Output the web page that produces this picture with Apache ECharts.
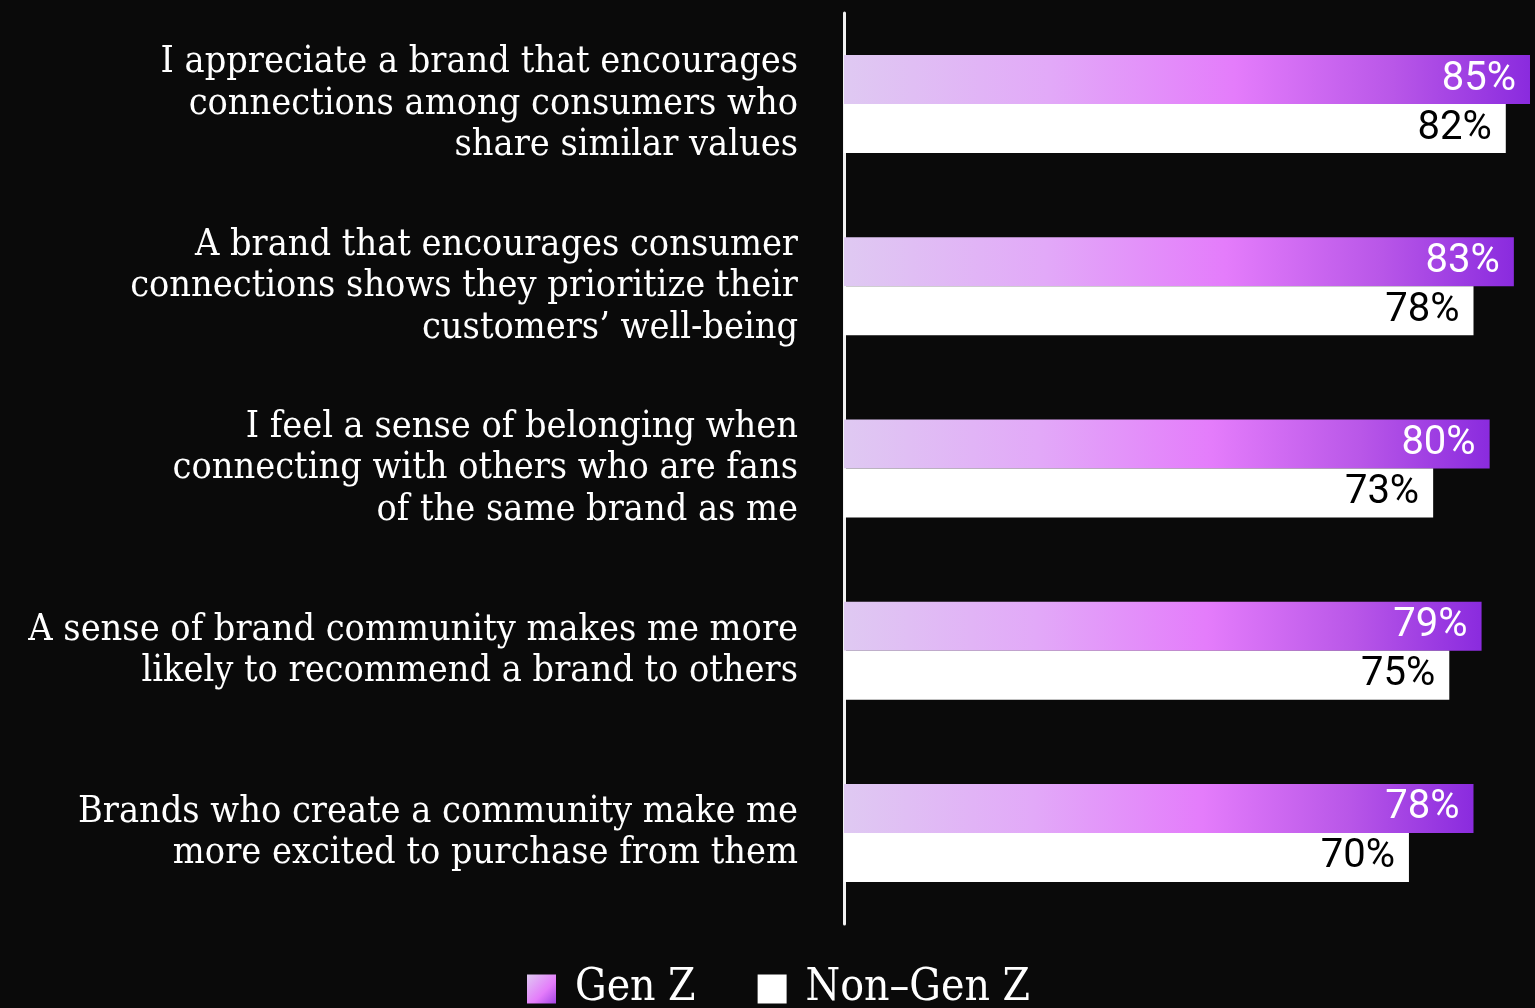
<!DOCTYPE html>
<html>
<head>
<meta charset="utf-8">
<title>Brand community attitudes: Gen Z vs Non–Gen Z</title>
<script src="https://cdn.jsdelivr.net/npm/echarts@6/dist/echarts.min.js"></script>
<style>
  html, body { margin: 0; padding: 0; background: #0a0a0a; }
  #chart { width: 1535px; height: 1008px; }
</style>
</head>
<body>
<div id="chart"></div>
<script>
// Statements, top to bottom
const statements = [
  'I appreciate a brand that encourages\nconnections among consumers who\nshare similar values',
  'A brand that encourages consumer\nconnections shows they prioritize their\ncustomers\u2019 well-being',
  'I feel a sense of belonging when\nconnecting with others who are fans\nof the same brand as me',
  'A sense of brand community makes me more\nlikely to recommend a brand to others',
  'Brands who create a community make me\nmore excited to purchase from them'
];
const seriesNames = ['Gen Z', 'Non\u2013Gen Z'];
const genZ = [85, 83, 80, 79, 78];
const nonGenZ = [82, 78, 73, 75, 70];

const serifFont = '"DejaVu Serif Condensed", "DejaVu Serif", serif';
const numFont = 'Roboto, "Liberation Sans", sans-serif';

const purpleGradient = new echarts.graphic.LinearGradient(0, 0, 1, 0, [
  { offset: 0, color: '#dfc9f2' },
  { offset: 0.3, color: '#e2a9f8' },
  { offset: 0.57, color: '#e47cfb' },
  { offset: 0.8, color: '#b957e8' },
  { offset: 1, color: '#8a2bde' }
]);
const legendGradient = new echarts.graphic.LinearGradient(0, 0, 1, 1, [
  { offset: 0, color: '#dfc9f2' },
  { offset: 0.6, color: '#e47cfb' },
  { offset: 1, color: '#a544e4' }
]);

const chart = echarts.init(document.getElementById('chart'), null, { renderer: 'canvas' });

chart.setOption({
  backgroundColor: '#0a0a0a',
  animation: false,
  grid: { left: 844, right: 5, top: 13, bottom: 84, containLabel: false },
  xAxis: {
    type: 'value',
    min: 0,
    max: 85,
    show: false
  },
  yAxis: {
    type: 'category',
    inverse: true,
    data: statements,
    axisLine: { show: true, lineStyle: { color: '#f2f2f2', width: 3 } },
    axisTick: { show: false },
    axisLabel: {
      color: '#ffffff',
      fontFamily: serifFont,
      fontSize: 37.5,
      lineHeight: 41.5,
      align: 'right',
      margin: 46
    }
  },
  legend: {
    data: [
      { name: seriesNames[0], itemStyle: { color: legendGradient } },
      { name: seriesNames[1], itemStyle: { color: '#ffffff' } }
    ],
    left: 527,
    top: 967,
    padding: 0,
    itemWidth: 29,
    itemHeight: 29,
    itemGap: 62,
    icon: 'rect',
    textStyle: { color: '#ffffff', fontFamily: serifFont, fontSize: 44, padding: [0, 0, 0, 14] }
  },
  series: [
    {
      name: seriesNames[0],
      type: 'bar',
      data: genZ,
      barWidth: 49,
      barGap: '0%',
      itemStyle: { color: purpleGradient },
      label: {
        show: true,
        position: 'insideRight',
        distance: 14,
        formatter: '{c}%',
        color: '#ffffff',
        fontFamily: numFont,
        fontSize: 40
      }
    },
    {
      name: seriesNames[1],
      type: 'bar',
      data: nonGenZ,
      barWidth: 49,
      barGap: '0%',
      itemStyle: { color: '#ffffff' },
      label: {
        show: true,
        position: 'insideRight',
        distance: 14,
        formatter: '{c}%',
        color: '#000000',
        fontFamily: numFont,
        fontSize: 40
      }
    }
  ]
});
</script>
</body>
</html>
